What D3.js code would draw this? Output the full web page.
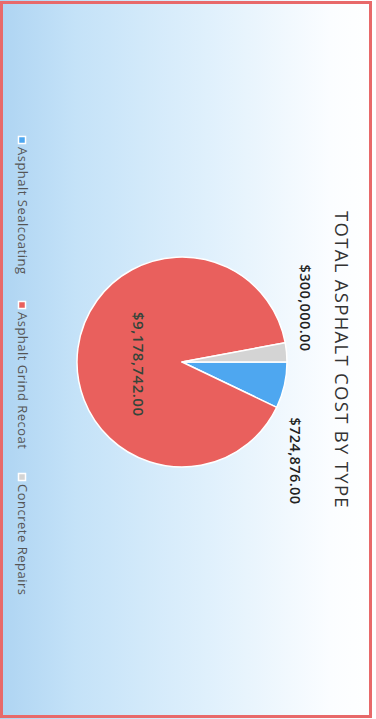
<!DOCTYPE html>
<html>
<head>
<meta charset="utf-8">
<script src="https://cdn.jsdelivr.net/npm/d3@7"></script>
<style>
  html, body { margin: 0; padding: 0; background: #ffffff; }
  svg { display: block; }
  text { font-family: "Open Sans", "Noto Sans", sans-serif; }
</style>
</head>
<body>
<svg id="chart" width="376" height="719"></svg>
<script>
// Cost by work type
const categories = ["Asphalt Sealcoating", "Asphalt Grind Recoat", "Concrete Repairs"];
const costs = [724876.00, 9178742.00, 300000.00];
const sliceColors = ["#4ea7f0", "#e9605d", "#d4d4d4"];
const chartTitle = "TOTAL ASPHALT COST BY TYPE";

const pageW = 376, pageH = 719;
// The chart is laid out landscape and turned a quarter turn clockwise on the page.
const W = pageH, H = pageW;

const svg = d3.select("#chart");
const defs = svg.append("defs");

const grad = defs.append("linearGradient")
  .attr("id", "bg").attr("x1", 0).attr("y1", 0).attr("x2", 0).attr("y2", 1);
[[0, "#ffffff"], [0.12, "#fbfdff"], [0.45, "#dff0fc"], [0.8, "#c4e2f8"], [1, "#aed4f2"]]
  .forEach(([o, c]) => grad.append("stop").attr("offset", o).attr("stop-color", c));

const g = svg.append("g").attr("transform", `translate(${pageW},0) rotate(90)`);

g.append("rect").attr("x", 0).attr("y", 0).attr("width", W).attr("height", H)
  .attr("fill", "url(#bg)");
g.append("rect").attr("x", 2.5).attr("y", 5.5).attr("width", W - 5).attr("height", H - 7)
  .attr("fill", "none").attr("stroke", "#e8696a").attr("stroke-width", 3);

// Title
g.append("text")
  .attr("x", 360).attr("y", 41)
  .attr("text-anchor", "middle")
  .attr("font-size", 18.5)
  .attr("letter-spacing", 1.3)
  .attr("fill", "#333333")
  .text(chartTitle);

// Pie
const cx = 362, cy = 194, r = 105;
const pie = d3.pie().sort(null).value(d => d.value).startAngle(0).endAngle(2 * Math.PI);
const data = categories.map((c, i) => ({ name: c, value: costs[i], color: sliceColors[i] }));
const arcs = pie(data);
const arc = d3.arc().innerRadius(0).outerRadius(r);

const pg = g.append("g").attr("transform", `translate(${cx},${cy})`);
pg.selectAll("path").data(arcs).join("path")
  .attr("d", arc)
  .attr("fill", d => d.data.color)
  .attr("stroke", "#ffffff")
  .attr("stroke-width", 1.5)
  .attr("stroke-linejoin", "round");

const fmt = v => "$" + d3.format(",.2f")(v);

// Labels for the narrow slices sit just outside the rim
const outerR = r + 10;
arcs.forEach(d => {
  const a = (d.startAngle + d.endAngle) / 2;
  const big = (d.endAngle - d.startAngle) > Math.PI;
  if (big) {
    const inner = d3.arc().innerRadius(0).outerRadius(r * 0.84);
    const [x, y] = inner.centroid(d);
    pg.append("text")
      .attr("x", x + 8).attr("y", y + 5)
      .attr("text-anchor", "middle")
      .attr("font-size", 15).attr("font-weight", 600)
      .attr("letter-spacing", 0.5)
      .attr("fill", "#34453a")
      .text(fmt(d.data.value));
  } else {
    const right = Math.sin(a) > 0;
    const x = Math.sin(a) * outerR + (right ? 30 : 0);
    const y = -Math.cos(a) * outerR + (right ? 4 : -3);
    pg.append("text")
      .attr("x", x).attr("y", y)
      .attr("text-anchor", right ? "start" : "end")
      .attr("font-size", 14.5).attr("font-weight", 600)
      .attr("letter-spacing", 0.4)
      .attr("fill", "#222222")
      .text(fmt(d.data.value));
  }
});

// Legend along the bottom
const legendX = [140, 305, 477];
const legendY = 354;
const lg = g.append("g");
data.forEach((d, i) => {
  const item = lg.append("g").attr("transform", `translate(${legendX[i]},${legendY})`);
  item.append("rect")
    .attr("x", -3.5).attr("y", -3.5).attr("width", 7).attr("height", 7)
    .attr("fill", d.color).attr("stroke", "#ffffff").attr("stroke-width", 1.5);
  item.append("text")
    .attr("x", 7).attr("y", 4.5)
    .attr("font-size", 13)
    .attr("letter-spacing", 0.5)
    .attr("fill", "#555555")
    .text(d.name);
});
</script>
</body>
</html>
